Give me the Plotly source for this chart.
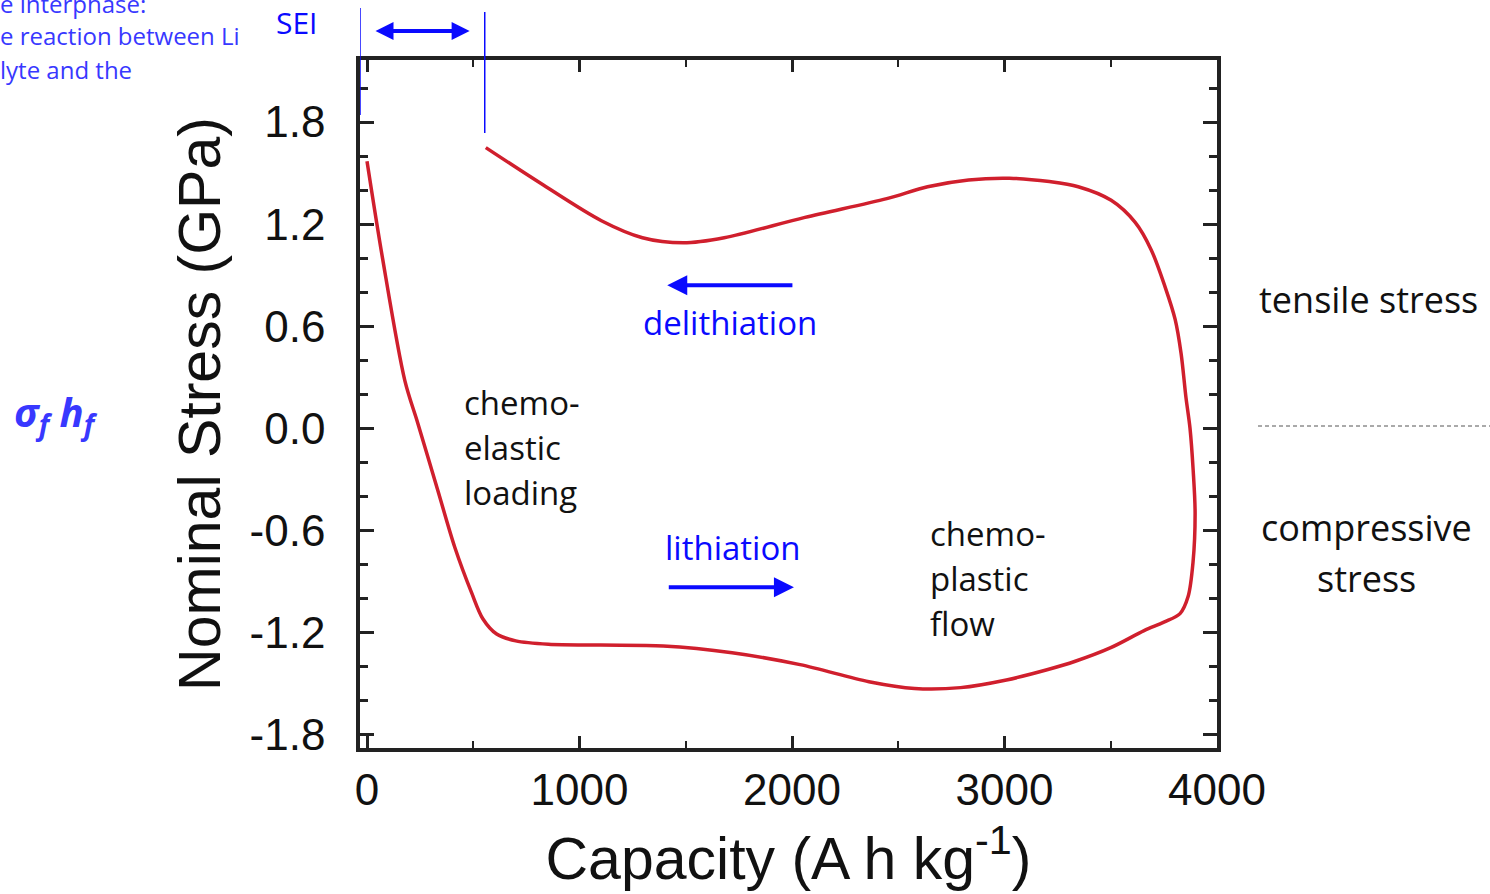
import plotly.graph_objects as go

# ---- data ----
capacity = [0, 73, 178, 239, 333, 413, 493, 545, 610, 700, 854, 1100, 1394, 1718, 2038, 2362,
            2577, 2793, 3009, 3200, 3333, 3500, 3657, 3750, 3826, 3864, 3887, 3897, 3888, 3873,
            3854, 3831, 3803, 3756, 3690, 3615, 3502, 3347, 3211, 3023, 2831, 2638, 2446, 2061,
            1681, 1488, 1296, 1103, 817, 559]
stress = [1.57, 1.00, 0.28, 0.03, -0.365, -0.70, -0.97, -1.12, -1.21, -1.25, -1.27, -1.275,
          -1.28, -1.32, -1.39, -1.49, -1.53, -1.525, -1.48, -1.42, -1.37, -1.29, -1.19, -1.14,
          -1.09, -0.99, -0.79, -0.50, -0.25, 0.0, 0.18, 0.44, 0.64, 0.83, 1.05, 1.21, 1.34,
          1.42, 1.45, 1.47, 1.46, 1.42, 1.35, 1.24, 1.12, 1.09, 1.12, 1.22, 1.44, 1.65]

x_ticks = [0, 1000, 2000, 3000, 4000]
y_ticks = [-1.8, -1.2, -0.6, 0.0, 0.6, 1.2, 1.8]
y_ticklabels = ["-1.8", "-1.2", "-0.6", "0.0", "0.6", "1.2", "1.8"]

sei_start = -33
sei_end = 554
arrow_level_delith = 0.84
arrow_level_lith = -0.935
arrow_from, arrow_to = 2009, 1413

W, H = 1490, 894
def px(x): return x / W
def py(y): return 1 - y / H

RED = "#d01f2d"
BLUE = "#0a0aff"
LBLUE = "#3838ff"
AX = "#222222"
TXT_FONT = "Open Sans"

fig = go.Figure()
fig.add_trace(go.Scatter(x=capacity, y=stress, mode="lines",
                         line=dict(color=RED, width=3.5, shape="spline", smoothing=0.9),
                         showlegend=False, hoverinfo="skip"))

fig.update_layout(
    width=W, height=H, margin=dict(l=0, r=0, t=0, b=0, autoexpand=False),
    paper_bgcolor="white", plot_bgcolor="white",
    font=dict(family="Liberation Sans", color="#111111"),
    xaxis=dict(domain=[px(360), px(1217)], range=[-33, 4000], automargin=False,
               tickvals=x_ticks, ticktext=[str(v) for v in x_ticks],
               ticks="inside", ticklen=12, tickwidth=3, tickcolor=AX,
               minor=dict(dtick=500, tick0=0, ticks="inside", ticklen=7, tickwidth=2, tickcolor=AX),
               showline=True, linewidth=3.5, linecolor=AX, mirror="ticks",
               showgrid=False, zeroline=False,
               tickfont=dict(size=44, family="Liberation Sans", color="#111"),
               title=dict(text="Capacity (A h kg<sup>-1</sup>)",
                          font=dict(size=59, family="Liberation Sans", color="#111"), standoff=26)),
    yaxis=dict(domain=[py(748), py(60)], range=[-1.88, 2.165], automargin=False,
               tickvals=y_ticks, ticktext=y_ticklabels,
               ticks="inside", ticklen=14, tickwidth=3, tickcolor=AX,
               minor=dict(dtick=0.2, tick0=0, ticks="inside", ticklen=8, tickwidth=2.5, tickcolor=AX),
               showline=True, linewidth=3.5, linecolor=AX, mirror="ticks",
               showgrid=False, zeroline=False, ticklabelstandoff=22,
               tickfont=dict(size=44, family="Liberation Sans", color="#111"),
               title=dict(text="Nominal Stress (GPa)",
                          font=dict(size=59, family="Liberation Sans", color="#111"), standoff=11)),
)

def label(x, y, text, size, color, anchor="center", family=TXT_FONT):
    fig.add_annotation(xref="paper", yref="paper", x=px(x), y=py(y), text=text,
                       xanchor=anchor, yanchor="middle", showarrow=False,
                       font=dict(family=family, size=size, color=color))

# SEI markers
fig.add_shape(type="line", xref="x", yref="paper", x0=sei_start, x1=sei_start,
              y0=py(115), y1=py(8), line=dict(color=BLUE, width=1.5))
fig.add_shape(type="line", xref="x", yref="paper", x0=sei_end, x1=sei_end,
              y0=py(133), y1=py(12), line=dict(color=BLUE, width=1.5))
fig.add_annotation(xref="x", yref="paper", x=40, y=py(31), ax=490, ay=0,
                   axref="x", ayref="pixel", text="", showarrow=True,
                   arrowhead=2, arrowside="end+start", arrowsize=0.9, arrowwidth=4, arrowcolor=BLUE)
label(297, 22, "SEI", 30, BLUE)

# delithiation / lithiation arrows
fig.add_annotation(xref="x", yref="y", x=arrow_to, y=arrow_level_delith, ax=arrow_from,
                   ay=arrow_level_delith, axref="x", ayref="y", text="", showarrow=True,
                   arrowhead=2, arrowsize=1, arrowwidth=4, arrowcolor=BLUE)
fig.add_annotation(xref="x", yref="y", x=arrow_from, y=arrow_level_lith, ax=arrow_to,
                   ay=arrow_level_lith, axref="x", ayref="y", text="", showarrow=True,
                   arrowhead=2, arrowsize=1, arrowwidth=4, arrowcolor=BLUE)
label(730, 322, "delithiation", 33, BLUE)
label(733, 547, "lithiation", 33, BLUE)

# black labels
for i, t in enumerate(["chemo-", "elastic", "loading"]):
    label(462, 402 + 45 * i, t, 33, "#111", anchor="left")
for i, t in enumerate(["chemo-", "plastic", "flow"]):
    label(928, 533 + 45 * i, t, 33, "#111", anchor="left")

label(1368, 300, "tensile stress", 36, "#111")
label(1366, 527, "compressive", 36, "#111")
label(1366, 578, "stress", 36, "#111")
fig.add_shape(type="line", xref="paper", yref="paper", x0=px(1258), x1=1.0,
              y0=py(426), y1=py(426), line=dict(color="#555", width=1, dash="4px,3px"))

# sigma_f h_f
label(12, 413, "<b><i>σ<sub>f</sub> h<sub>f</sub></i></b>", 40, LBLUE, anchor="left")

# cut-off text at top-left
for t, yy in [("e interphase:", 3), ("e reaction between Li", 36), ("lyte and the", 70)]:
    label(-2, yy, t, 24, LBLUE, anchor="left")

fig.write_html("out.html")
